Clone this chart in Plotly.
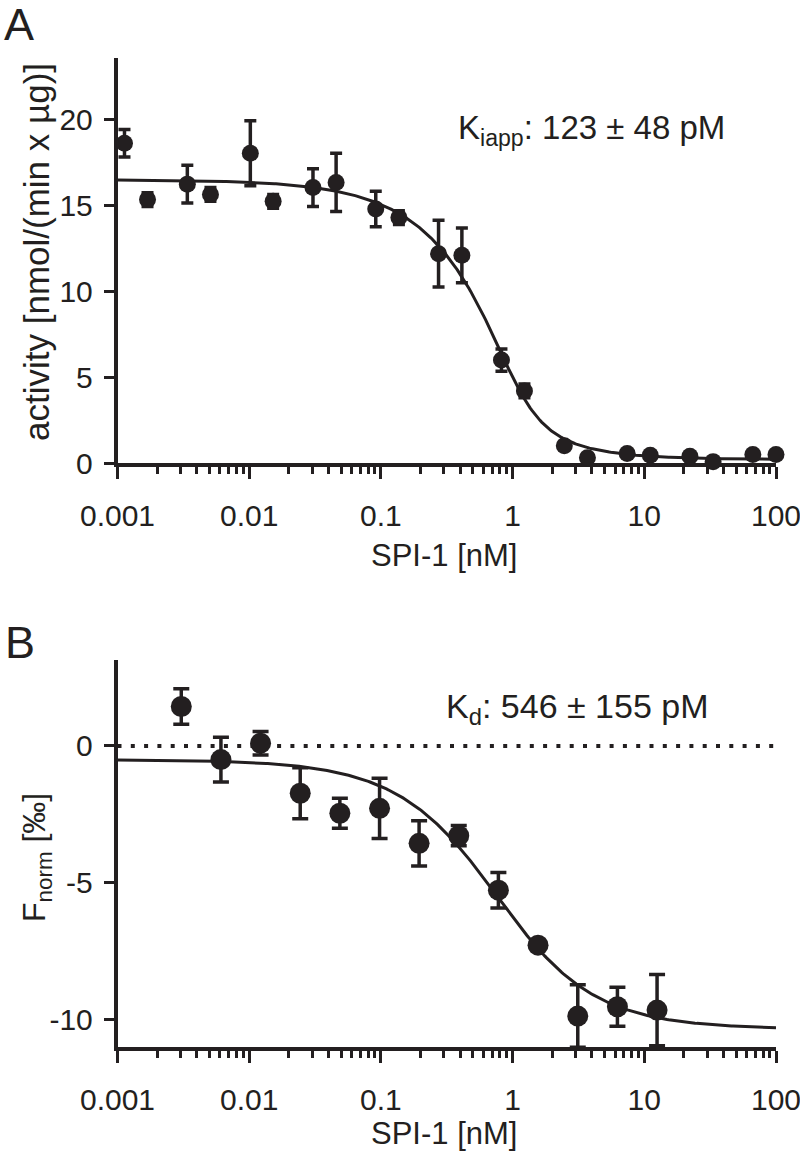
import numpy as np
import plotly.graph_objects as go

# ---------------- data ----------------
# Panel A: enzyme activity vs SPI-1 concentration
a_conc = [0.00113, 0.00169, 0.00339, 0.00508, 0.0102, 0.0152, 0.0305, 0.0457,
          0.0914, 0.137, 0.274, 0.412, 0.823, 1.23, 2.47, 3.70, 7.41, 11.1,
          22.2, 33.3, 66.7, 100.0]
a_activity = [18.63, 15.35, 16.25, 15.65, 18.05, 15.25, 16.05, 16.35,
              14.8, 14.3, 12.2, 12.1, 6.0, 4.2, 1.0, 0.3, 0.55, 0.45,
              0.4, 0.08, 0.5, 0.5]
a_err = [0.8, 0.4, 1.1, 0.4, 1.9, 0.4, 1.1, 1.7,
         1.03, 0.4, 1.95, 1.6, 0.65, 0.4, 0.0, 0.0, 0.0, 0.0,
         0.0, 0.0, 0.0, 0.0]
# Morrison fit parameters (panel A)
a_fit = dict(v0=16.3, bottom=0.2, E=1.0, Ki=0.123)

# Panel B: MST normalized fluorescence vs SPI-1 concentration
b_conc = [0.00305, 0.0061, 0.0122, 0.0244, 0.0488, 0.0977, 0.195, 0.39,
          0.78, 1.56, 3.125, 6.25, 12.5]
b_fnorm = [1.44, -0.5, 0.1, -1.73, -2.46, -2.28, -3.56, -3.28,
           -5.27, -7.28, -9.87, -9.53, -9.65]
b_err = [0.65, 0.82, 0.43, 0.93, 0.55, 1.1, 0.83, 0.37,
         0.65, 0.0, 1.14, 0.71, 1.3]
# quadratic binding fit parameters (panel B)
b_fit = dict(top=-0.5, bottom=-10.35, E=0.4, Kd=0.546)

x_tickvals = [0.001, 0.01, 0.1, 1, 10, 100]
x_ticktext = ["0.001", "0.01", "0.1", "1", "10", "100"]
a_ytick = [0, 5, 10, 15, 20]
a_yticktext = ["0", "5", "10", "15", "20"]
b_ytick = [-10, -5, 0]
b_yticktext = ["-10", "-5", "0"]

# ---------------- fit curves ----------------
xc = np.logspace(-3, 2, 400)
S = a_fit["E"] + xc + a_fit["Ki"]
a_curve = a_fit["bottom"] + a_fit["v0"] * (1 - (S - np.sqrt(S**2 - 4 * a_fit["E"] * xc)) / (2 * a_fit["E"]))
S2 = b_fit["E"] + xc + b_fit["Kd"]
frac = (S2 - np.sqrt(S2**2 - 4 * b_fit["E"] * xc)) / (2 * b_fit["E"])
b_curve = b_fit["top"] + (b_fit["bottom"] - b_fit["top"]) * frac

minor_vals = [m * 10.0**d for d in range(-3, 2) for m in range(2, 10)]

FONT = "Liberation Sans, Arial, Helvetica, sans-serif"
BLACK = "#231f20"

fig = go.Figure()

# Panel A
fig.add_trace(go.Scatter(x=xc, y=a_curve, mode="lines", line=dict(color=BLACK, width=3),
                         xaxis="x", yaxis="y", hoverinfo="skip"))
fig.add_trace(go.Scatter(x=a_conc, y=a_activity, mode="markers",
                         marker=dict(color=BLACK, size=17),
                         error_y=dict(type="data", array=a_err, color=BLACK, thickness=3.5, width=6),
                         cliponaxis=False, xaxis="x", yaxis="y"))

# Panel B
fig.add_trace(go.Scatter(x=[0.001, 100], y=[0, 0], mode="lines",
                         line=dict(color=BLACK, width=4, dash="4px,9.3px"),
                         xaxis="x2", yaxis="y2", hoverinfo="skip"))
fig.add_trace(go.Scatter(x=xc, y=b_curve, mode="lines", line=dict(color=BLACK, width=3),
                         xaxis="x2", yaxis="y2", hoverinfo="skip"))
fig.add_trace(go.Scatter(x=b_conc, y=b_fnorm, mode="markers",
                         marker=dict(color=BLACK, size=21),
                         error_y=dict(type="data", array=b_err, color=BLACK, thickness=3.5, width=8),
                         cliponaxis=False, xaxis="x2", yaxis="y2"))

H = 1153.0
W = 800.0
xdom = [117.5 / W, 776 / W]


def xaxis_common(anchor):
    return dict(type="log", range=[-3, 2], domain=xdom, anchor=anchor, automargin=False,
                tickmode="array", tickvals=x_tickvals, ticktext=x_ticktext,
                ticks="outside", ticklen=12, tickwidth=3, tickcolor=BLACK,
                showline=True, linewidth=3.5, linecolor=BLACK,
                showgrid=False, zeroline=False, layer="below traces",
                minor=dict(tickvals=minor_vals, ticks="outside", ticklen=7, tickwidth=3,
                           tickcolor=BLACK, showgrid=False),
                tickfont=dict(family=FONT, size=30, color=BLACK),
                ticklabelstandoff=11, ticklabeloverflow="allow")


def yaxis_common(anchor, rng, dom, ticks, ticktext):
    return dict(range=rng, domain=dom, anchor=anchor, automargin=False,
                tickmode="array", tickvals=ticks, ticktext=ticktext,
                ticks="outside", ticklen=10, tickwidth=3, tickcolor=BLACK,
                showline=True, linewidth=3.5, linecolor=BLACK,
                showgrid=False, zeroline=False, layer="below traces",
                tickfont=dict(family=FONT, size=30, color=BLACK),
                ticklabelstandoff=5, ticklabeloverflow="allow")


def txt(text, xpx, ypx, size, angle=0, xanchor="center"):
    return dict(text=text, x=xpx / W, y=1 - ypx / H, xref="paper", yref="paper",
                xanchor=xanchor, yanchor="middle", showarrow=False, textangle=angle,
                font=dict(family=FONT, size=size, color=BLACK))


fig.update_layout(
    width=800, height=1153,
    margin=dict(l=0, r=0, t=0, b=0),
    paper_bgcolor="white", plot_bgcolor="white",
    showlegend=False,
    font=dict(family=FONT, color=BLACK),
    xaxis=xaxis_common("y"),
    yaxis=yaxis_common("x", [0, 23.6], [1 - 463 / H, 1 - 58 / H], a_ytick, a_yticktext),
    xaxis2=xaxis_common("y2"),
    yaxis2=yaxis_common("x2", [-11, 3.14], [1 - 1047 / H, 1 - 660 / H], b_ytick, b_yticktext),
    annotations=[
        txt("A", 2, 24, 45, xanchor="left"),
        txt("B", 3, 643, 45, xanchor="left"),
        txt("SPI-1 [nM]", 444, 555, 31),
        txt("SPI-1 [nM]", 444, 1133, 31),
        txt("activity [nmol/(min x µg)]", 36, 252, 35, angle=-90),
        txt("F<sub>norm</sub> [‰]", 36, 858, 32, angle=-90),
        txt("K<sub>iapp</sub>: 123 ± 48 pM", 456, 130, 33, xanchor="left"),
        txt("K<sub>d</sub>: 546 ± 155 pM", 444, 708, 34, xanchor="left"),
    ],
)

fig.write_html(
    "out.html",
    config={"displayModeBar": False},
    post_script="document.body.style.margin='0';document.body.style.padding='0';"
                "document.body.style.overflow='hidden';",
)
